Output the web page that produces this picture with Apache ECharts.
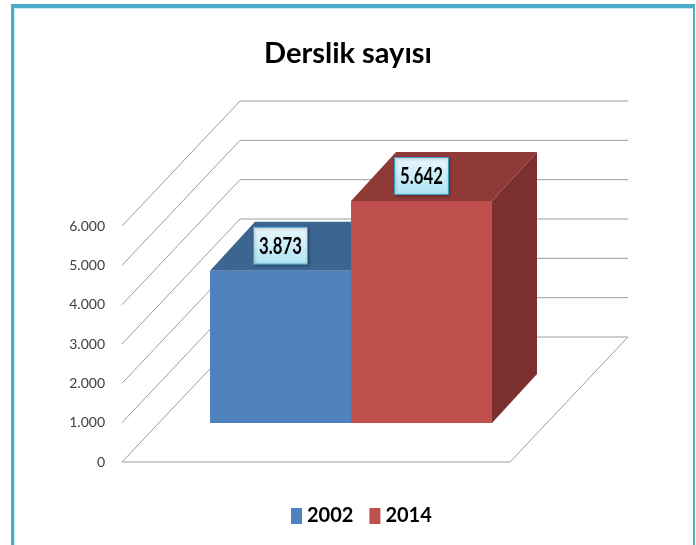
<!DOCTYPE html>
<html>
<head>
<meta charset="utf-8">
<script src="https://cdn.jsdelivr.net/npm/echarts@6/dist/echarts.min.js"></script>
<style>
html,body{margin:0;padding:0;background:#fff;}
#main{width:696px;height:545px;}
</style>
</head>
<body>
<div id="main"></div>
<script>
// veriler
var years = ['2002', '2014'];
var derslik = [3873, 5642];
var yTicks = [0, 1000, 2000, 3000, 4000, 5000, 6000];

var barColors = [
	{front: '#4f81bd', top: '#3c6591', side: '#2f5078'},
	{front: '#c0504d', top: '#903a38', side: '#7b302f'}
];
var FONT = 'Lato, "Open Sans", sans-serif';

// 3B derinlik (piksel)
var WALL_DX = 118, WALL_DY = -125;
var BAR_OFF_DX = 35, BAR_OFF_DY = -39;
var BAR_DX = 45, BAR_DY = -49;

function fmt(v) {
	return String(v).replace(/\B(?=(\d{3})+(?!\d))/g, '.');
}

var chart = echarts.init(document.getElementById('main'));

//duvarlar ve zemin
function renderWalls(params, api) {
	var v = api.value(1);
	var p = api.coord([0, v]);
	var half = api.size([1, 0])[0] / 2;
	var l = p[0] - half, r = p[0] + half, y = p[1];
	var st = {stroke: '#9c9c9c', lineWidth: 1};
	var kids = [
		{type: 'line', shape: {x1: l, y1: y, x2: l + WALL_DX, y2: y + WALL_DY}, style: st},
		{type: 'line', shape: {x1: l + WALL_DX, y1: y + WALL_DY, x2: r + WALL_DX, y2: y + WALL_DY}, style: st}
	];
	if (v === yTicks[0]) {
		kids.push({type: 'line', shape: {x1: l, y1: y, x2: r, y2: y}, style: st});
		kids.push({type: 'line', shape: {x1: r, y1: y, x2: r + WALL_DX, y2: y + WALL_DY}, style: st});
	}
	return {type: 'group', children: kids};
}

//sütunlar
function makeBar(s) {
	return function (params, api) {
		var base = api.coord([0, 0]);
		var top = api.coord([0, api.value(1)]);
		var band = api.size([1, 0])[0];
		var w = band * 0.3634;
		var x0 = base[0] - band / 2 + band * 0.1366 + s * w + BAR_OFF_DX;
		var x1 = x0 + w;
		var yb = base[1] + BAR_OFF_DY, yt = top[1] + BAR_OFF_DY;
		var c = barColors[s];
		var cx = x0 + w / 2, cy = yt - 25;
		return {type: 'group', children: [
			{type: 'polygon', shape: {points: [[x1, yt], [x1 + BAR_DX, yt + BAR_DY], [x1 + BAR_DX, yb + BAR_DY], [x1, yb]]}, style: {fill: c.side}},
			{type: 'polygon', shape: {points: [[x0, yt], [x1, yt], [x1 + BAR_DX, yt + BAR_DY], [x0 + BAR_DX, yt + BAR_DY]]}, style: {fill: c.top}},
			{type: 'rect', shape: {x: x0, y: yt, width: w, height: yb - yt}, style: {fill: c.front}},
			{type: 'rect', shape: {x: cx - 27, y: cy - 18.5, width: 54, height: 37},
				style: {
					fill: new echarts.graphic.LinearGradient(0, 0, 0, 1, [
						{offset: 0, color: '#eaf8fd'}, {offset: 1, color: '#ade3f4'}
					]),
					stroke: '#3f9cc4', lineWidth: 1,
					shadowBlur: 3, shadowColor: 'rgba(0,0,0,0.35)', shadowOffsetX: 1, shadowOffsetY: 1
				}},
			{type: 'text', x: cx, y: cy + 1, scaleX: 0.76, style: {
				text: fmt(api.value(1)), fill: '#000', fontSize: 22, fontWeight: 'bold',
				fontFamily: FONT, align: 'center', verticalAlign: 'middle'
			}}
		]};
	};
}

var series = [{
	type: 'custom',
	silent: true,
	renderItem: renderWalls,
	data: yTicks.map(function (v) { return [0, v]; }),
	z: 1
}];
for (var i = 0; i < years.length; i++) {
	series.push({
		type: 'custom',
		name: years[i],
		renderItem: makeBar(i),
		itemStyle: {color: barColors[i].front},
		data: [[0, derslik[i]]],
		z: 2 + i
	});
}

var option = {
	animation: false,
	title: {
		text: 'Derslik sayısı',
		left: 'center',
		top: 34,
		textStyle: {fontSize: 29, fontWeight: 'bold', fontFamily: FONT, color: '#000'}
	},
	legend: {
		data: years,
		left: 286,
		top: 501,
		icon: 'rect',
		itemWidth: 11,
		itemHeight: 16,
		itemGap: 16,
		textStyle: {fontSize: 20, fontWeight: 'bold', fontFamily: FONT, color: '#000'}
	},
	grid: {left: 122, right: 186, top: 226, bottom: 83},
	xAxis: {
		type: 'category',
		data: [''],
		show: false
	},
	yAxis: {
		type: 'value',
		min: yTicks[0],
		max: yTicks[yTicks.length - 1],
		interval: yTicks[1] - yTicks[0],
		axisLine: {show: false},
		axisTick: {show: false},
		splitLine: {show: false},
		axisLabel: {
			margin: 17,
			color: '#404040',
			fontSize: 14,
			fontFamily: FONT,
			formatter: fmt
		}
	},
	graphic: [
		{type: 'rect', shape: {x: 11, y: 4, width: 684, height: 4}, style: {fill: '#4bacc6'}},
		{type: 'rect', shape: {x: 11, y: 4, width: 3, height: 541}, style: {fill: '#4bacc6'}},
		{type: 'rect', shape: {x: 693, y: 4, width: 2, height: 541}, style: {fill: '#4bacc6'}},
		{type: 'rect', shape: {x: 14, y: 8, width: 679, height: 1}, style: {fill: '#c3e6f0'}},
		{type: 'rect', shape: {x: 14, y: 8, width: 1, height: 537}, style: {fill: '#c3e6f0'}}
	],
	series: series
};

chart.setOption(option);
</script>
</body>
</html>
